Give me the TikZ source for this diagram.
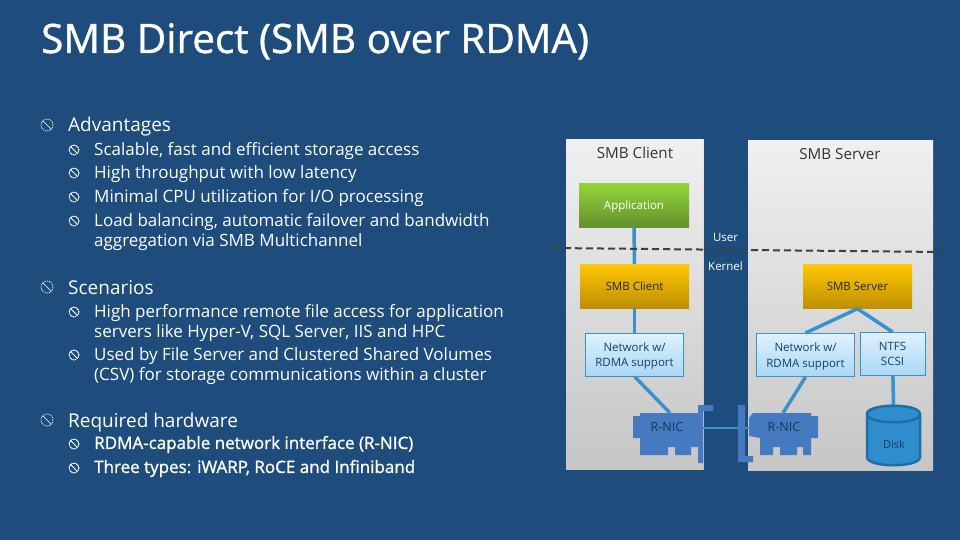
\documentclass[tikz,border=0pt]{standalone}
\usepackage{fontspec}
\setmainfont{Open Sans}
\newfontfamily\heavyfont[FakeBold=1.2]{Open Sans}
\newfontfamily\titlefont[FakeBold=1]{Open Sans}
\definecolor{slide}{RGB}{30,77,125}
\definecolor{wire}{RGB}{58,146,205}
\definecolor{nic}{RGB}{70,122,192}
\definecolor{barrel}{RGB}{47,141,205}
\definecolor{barreledge}{RGB}{30,110,165}
\definecolor{greentop}{RGB}{146,214,58}
\definecolor{greenend}{RGB}{100,145,45}
\definecolor{goldtop}{RGB}{255,200,0}
\definecolor{goldend}{RGB}{190,142,0}
\definecolor{nettop}{RGB}{224,241,252}
\definecolor{netend}{RGB}{170,215,245}
\definecolor{paneltop}{RGB}{240,240,240}
\definecolor{panelend}{RGB}{198,198,198}
\tikzset{
  headline/.style={anchor=base west,inner sep=0pt,text=white,font=\titlefont\fontsize{40.5}{40.5}\selectfont},
  topitem/.style={anchor=base west,inner sep=0pt,text=white,font=\fontsize{19}{19}\selectfont},
  subitem/.style={anchor=west,inner sep=0pt,align=left,text=white,font=\fontsize{17}{19.2}\selectfont},
  heavyitem/.style={subitem,font=\heavyfont\fontsize{17}{19.2}\selectfont},
  panel/.style={top color=paneltop,bottom color=panelend},
  paneltitle/.style={text=black!80,font=\fontsize{15.2}{15.2}\selectfont},
  greenbox/.style={inner sep=0pt,text depth=-1pt,minimum width=110pt,minimum height=44pt,top color=greentop,bottom color=greenend,
    text=white,font=\fontsize{11.5}{11.5}\selectfont},
  goldbox/.style={inner sep=0pt,text depth=-2pt,minimum width=109pt,minimum height=44pt,top color=goldtop,bottom color=goldend,
    text=black!85,font=\fontsize{11.5}{11.5}\selectfont},
  netbox/.style={inner sep=0pt,align=center,minimum height=43pt,draw=wire,line width=1pt,top color=nettop,bottom color=netend,
    text=slide!80!black,font=\fontsize{11.5}{15.5}\selectfont},
  smalltext/.style={text=white,font=\fontsize{11.5}{11.5}\selectfont},
  nictext/.style={text=slide!70!black,font=\fontsize{12.5}{12.5}\selectfont},
  wireline/.style={draw=wire,line width=3.5pt},
  ring/.style={draw=white,line width=0.6pt,dash pattern=on 1.2pt off 0.8pt},
}
\newcommand{\ringmark}[2]{
  \draw[ring] (#1) circle (#2);
  \draw[white,line width=0.6pt] (#1) ++(-0.7*#2,0.7*#2) -- ++(1.4*#2,-1.4*#2);
}
\begin{document}
\begin{tikzpicture}[x=1pt,y=-1pt]
  \useasboundingbox[fill=slide] (0,0) rectangle (960,540);
  % slide text
  \node[headline] (title) at (41,53) {SMB Direct (SMB over RDMA)};
  \node[topitem] (adv) at (68,132) {Advantages};
  \node[subitem] (adv1) at (94,151) {Scalable, fast and efficient storage access};
  \node[subitem] (adv2) at (94,174) {High throughput with low latency};
  \node[subitem] (adv3) at (94,198) {Minimal CPU utilization for I/O processing};
  \node[subitem] (adv4) at (94,232) {Load balancing, automatic failover and bandwidth\\aggregation via SMB Multichannel};
  \node[topitem] (scen) at (68,294) {Scenarios};
  \node[subitem] (scen1) at (94,323) {High performance remote file access for application\\servers like Hyper-V, SQL Server, IIS and HPC};
  \node[subitem] (scen2) at (94,366) {Used by File Server and Clustered Shared Volumes\\(CSV) for storage communications within a cluster};
  \node[topitem] (hw) at (68,427) {Required hardware};
  \node[heavyitem] (hw1) at (94,444.5) {RDMA-capable network interface (R-NIC)};
  \node[heavyitem] (hw2) at (94,468.5) {Three types: iWARP, RoCE and Infiniband};
  % bullets
  \foreach \y in {125,287,420}
    \ringmark{47,\y}{6pt}
  \foreach \y in {150,173,197,221,312,355,444,468}
    \ringmark{74,\y}{5pt}
  % panels
  \fill[panel] (566,140) rectangle (703,469);
  \fill[panel] (748,141) rectangle (933,470);
  \node[paneltitle] (clienttitle) at (635,153) {SMB Client};
  \node[paneltitle] (servertitle) at (840,154) {SMB Server};
  % boxes
  \node[greenbox] (app) at (634,205) {Application};
  \node[goldbox] (smbc) at (634.5,286) {SMB Client};
  \node[goldbox] (smbs) at (857.5,286.5) {SMB Server};
  \node[netbox,text depth=0pt,minimum width=98pt] (netc) at (634.5,354.5) {Network w/\\RDMA support};
  \node[netbox,text depth=0pt,minimum width=98pt] (nets) at (805.5,355) {Network w/\\RDMA support};
  \node[netbox,text depth=-2pt,minimum width=65pt] (ntfs) at (892.5,354) {NTFS\\SCSI};
  \coordinate (disktop) at (893.5,406);
  \coordinate (nicc) at (670,413);
  \coordinate (nics) at (783,413);
  \coordinate (linkc) at (703,428);
  \coordinate (links) at (749,428);
  % connectors
  \begin{scope}[wireline]
    \draw (app) to (smbc);
    \draw (smbc) to (netc);
    \draw (smbs.south) to (nets.north);
    \draw (smbs.south) to (ntfs.north);
    \draw (netc.south) to (nicc);
    \draw (nets.south) to (nics);
    \draw (ntfs) to (disktop);
    \draw[line width=2.5pt] (linkc) to (links);
  \end{scope}
  % disk
  \draw[draw=barreledge,line width=2.5pt,fill=barrel] (867,414) -- (867,457)
    .. controls (867,468) and (920,468) .. (920,457) -- (920,414)
    .. controls (920,403) and (867,403) .. (867,414) -- cycle;
  \draw[draw=barreledge,line width=2.5pt] (867,414) .. controls (867,425) and (920,425) .. (920,414);
  \node[text=slide!80!black,font=\fontsize{11}{11}\selectfont] (disktext) at (894,444) {Disk};
  % cards
  \fill[nic] (640,413) -- (698,413) -- (698,405) -- (713,405) -- (713,411) -- (703,411) -- (703,463) -- (698,463)
    -- (698,447) -- (691,447) -- (691,455) -- (675,455) -- (675,447) -- (668,447) -- (668,455) -- (640,455)
    -- (640,438) -- (633,438) -- (633,416) -- (640,416) -- cycle;
  \fill[nic] (753,413) -- (811,413) -- (811,416) -- (818,416) -- (818,438) -- (811,438) -- (811,455) -- (803,455)
    -- (803,447) -- (797,447) -- (797,455) -- (780,455) -- (780,447) -- (773,447) -- (773,455) -- (760,455)
    -- (760,438) -- (749,436) -- (749,418) -- cycle;
  \fill[nic] (738,405) -- (745,405) -- (745,456) -- (753,456) -- (753,462) -- (738,462) -- cycle;
  \node[nictext] (nicctext) at (667,427.5) {R-NIC};
  \node[nictext] (nicstext) at (784,427.5) {R-NIC};
  % user and kernel
  \coordinate (sepl) at (553,248);
  \coordinate (sepr) at (942,252);
  \draw[black!75,line width=2pt,dash pattern=on 7pt off 4pt] (sepl) to (sepr);
  \node[smalltext] (user) at (725.5,237) {User};
  \node[smalltext] (kernel) at (725.5,266) {Kernel};
\end{tikzpicture}
\end{document}
